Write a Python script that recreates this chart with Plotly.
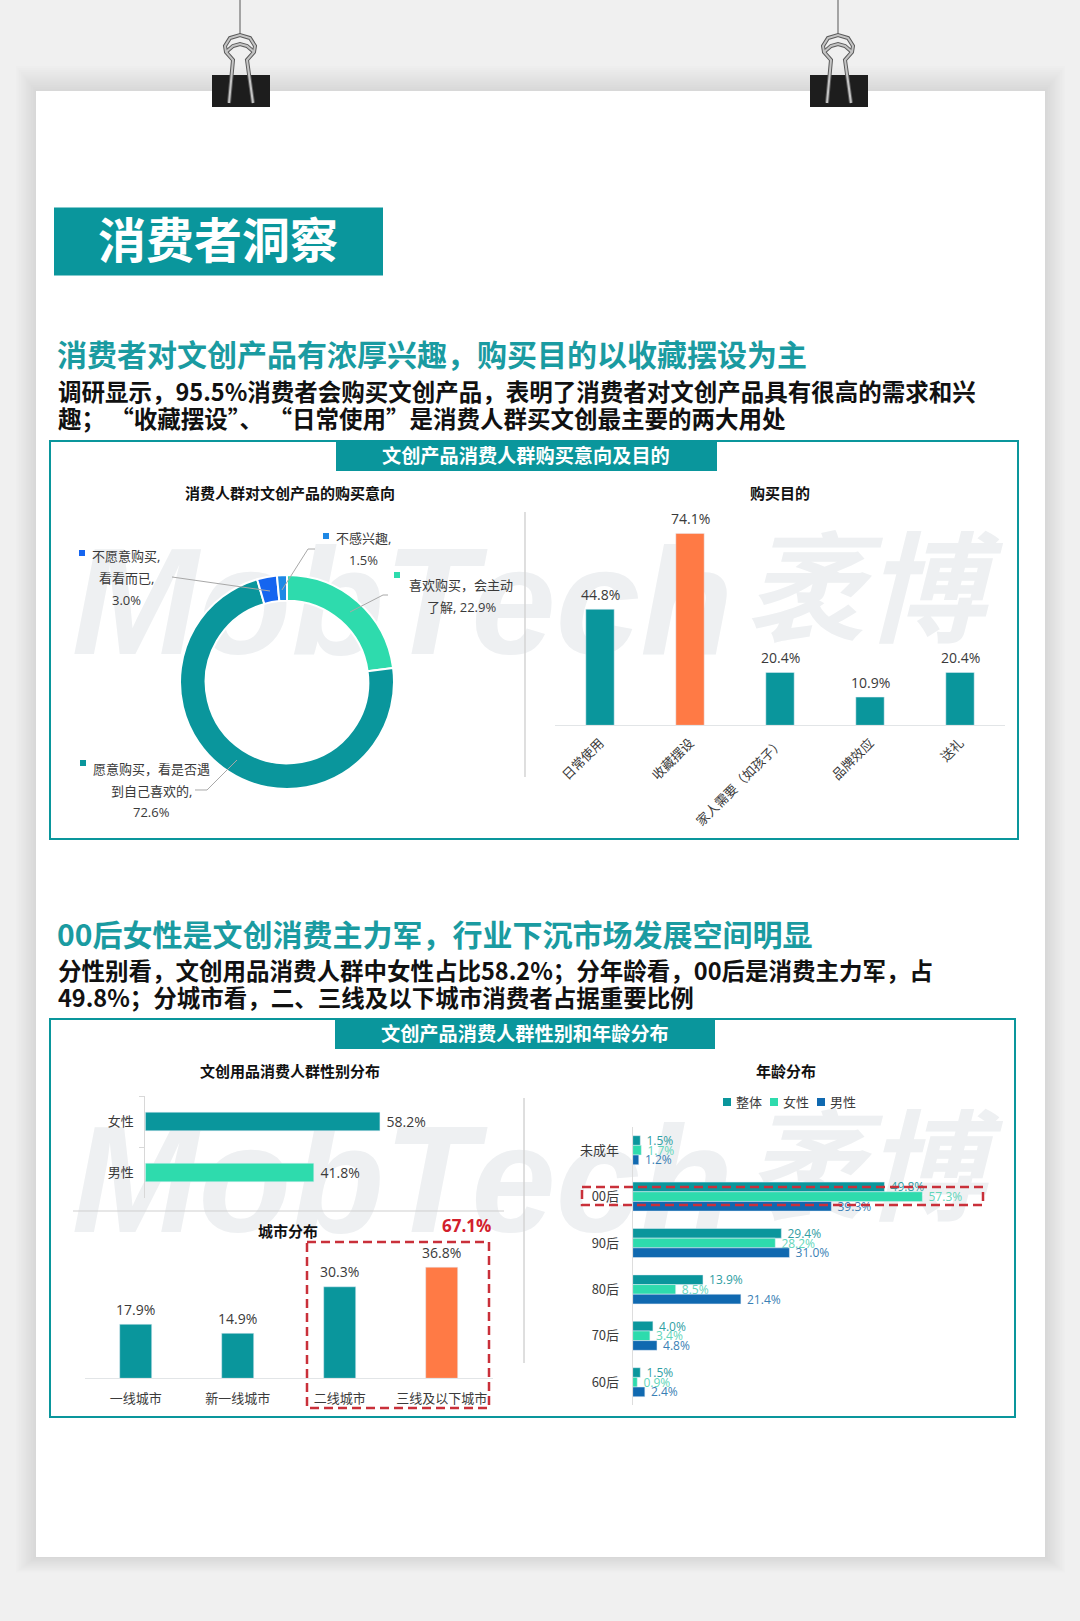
import plotly.graph_objects as go

W, H = 1080, 1621

# donut
intent_lines = [["喜欢购买，会主动", "了解, {}"], ["愿意购买，看是否遇", "到自己喜欢的,", "{}"],
                ["不愿意购买,", "看看而已,", "{}"], ["不感兴趣,", "{}"]]
intent_names = ["喜欢购买，会主动了解", "愿意购买，看是否遇到自己喜欢的", "不愿意购买，看看而已", "不感兴趣"]
intent_vals = [22.9, 72.6, 3.0, 1.5]

# purchase purpose
purpose_cats = ["日常使用", "收藏摆设", "家人需要（如孩子）", "品牌效应", "送礼"]
purpose_vals = [44.8, 74.1, 20.4, 10.9, 20.4]

# gender
gender_cats = ["女性", "男性"]
gender_vals = [58.2, 41.8]

# city tier
city_cats = ["一线城市", "新一线城市", "二线城市", "三线及以下城市"]
city_vals = [17.9, 14.9, 30.3, 36.8]

# age
age_cats = ["未成年", "00后", "90后", "80后", "70后", "60后"]
age_all = [1.5, 49.8, 29.4, 13.9, 4.0, 1.5]
age_female = [1.7, 57.3, 28.2, 8.5, 3.4, 0.9]
age_male = [1.2, 39.3, 31.0, 21.4, 4.8, 2.4]

TEAL = "#0a969c"
GREEN = "#2edbad"
ORANGE = "#ff7a45"
BLUE1 = "#1565f0"
BLUE2 = "#1e88e5"
NAVY = "#1069b0"
RED = "#c9303a"
GREY = "#3a3a3a"
CJK = "Noto Sans CJK SC"
LABEL_FONT = "Open Sans, Noto Sans CJK SC"


def px(x):
    return x / W


def py(y):
    return 1 - y / H


def dom_x(a, b):
    return [px(a), px(b)]


def dom_y(top, bottom):
    return [py(bottom), py(top)]


fig = go.Figure()

fig.add_trace(go.Pie(values=intent_vals, labels=intent_names, sort=False, direction="clockwise",
                     rotation=0, hole=0.76, textinfo="none", showlegend=False,
                     marker=dict(colors=[GREEN, TEAL, BLUE1, BLUE2], line=dict(color="white", width=2)),
                     domain=dict(x=dom_x(180, 394), y=dom_y(575, 789))))

fig.add_trace(go.Bar(x=purpose_cats, y=purpose_vals, width=0.315, xaxis="x", yaxis="y",
                     marker_color=[TEAL, ORANGE, TEAL, TEAL, TEAL], showlegend=False))

# leading nbsp gives the horizontal labels the same gap from the bar end as the original
fig.add_trace(go.Bar(y=gender_cats, x=gender_vals, width=0.365, orientation="h", xaxis="x2", yaxis="y2",
                     marker_color=[TEAL, GREEN],
                     text=[f"\u00a0{v:.1f}%" for v in gender_vals], textposition="outside",
                     textfont=dict(size=14, color=GREY, family=LABEL_FONT),
                     cliponaxis=False, showlegend=False))

fig.add_trace(go.Bar(x=city_cats, y=city_vals, width=0.314, xaxis="x3", yaxis="y3",
                     marker_color=[TEAL, TEAL, TEAL, ORANGE], showlegend=False))

for name, vals, col, txt_col in [("整体", age_all, TEAL, "#2f9ea3"),
                                 ("女性", age_female, GREEN, "#62d6ba"),
                                 ("男性", age_male, NAVY, "#3a7fb5")]:
    fig.add_trace(go.Bar(y=age_cats, x=vals, name=name, orientation="h", xaxis="x4", yaxis="y4",
                         marker_color=col,
                         text=[f"\u00a0{v:.1f}%" for v in vals], textposition="outside",
                         textfont=dict(size=12, color=txt_col, family=LABEL_FONT),
                         cliponaxis=False, showlegend=False))

shapes = []


def rect(x0, y0, x1, y1, fill=None, line=None, lw=0, dash=None, layer="below", label=None):
    s = dict(type="rect", xref="paper", yref="paper", x0=px(x0), x1=px(x1), y0=py(y0), y1=py(y1),
             layer=layer, fillcolor=fill or "rgba(0,0,0,0)",
             line=dict(color=line or "rgba(0,0,0,0)", width=lw, dash=dash or "solid"))
    if label:
        s["label"] = label
    shapes.append(s)


def pline(points, color="#a8a8a8", lw=1, layer="above"):
    path = "M" + " L".join(f"{px(a):.5f},{py(b):.5f}" for a, b in points)
    shapes.append(dict(type="path", xref="paper", yref="paper", path=path, layer=layer,
                       line=dict(color=color, width=lw)))


# paper with soft shadow
for i in range(12, 0, -1):
    rect(36 - 1.7 * i, 91 - 2.1 * i, 1045 + 1.7 * i, 1557 + 1.3 * i, fill="rgba(0,0,0,0.006)")
rect(36, 91, 1045, 1557, fill="white")

# watermark, twice
for cy in [587, 1165]:
    rect(45, cy - 90, 760, cy + 90, label=dict(text="<b><i>MobTech</i></b>", textposition="middle center",
         font=dict(family="Liberation Sans", size=152, color="#eef0f2")))
    rect(735, cy - 77, 995, cy + 103, label=dict(text="<b><i>袤博</i></b>", textposition="middle center",
         font=dict(family=CJK, size=120, color="#eef0f2")))

# panels
rect(54, 207.5, 383, 275.5, fill=TEAL)
rect(50, 441, 1018, 839, line=TEAL, lw=2)
rect(336, 441, 717, 471, fill=TEAL)
rect(50, 1019, 1015, 1417, line=TEAL, lw=2)
rect(335, 1019, 715, 1049, fill=TEAL)

# dividers
pline([(525, 512), (525, 777)], color="#d4d4d4", lw=1.5, layer="below")
pline([(524, 1098), (524, 1363)], color="#d4d4d4", lw=1.5, layer="below")
pline([(73, 1211), (504, 1211)], color="#cfcfcf", lw=1, layer="below")

# binder clips
for dx in [0, 598]:
    pline([(240 + dx, 0), (240 + dx, 35)], color="#8a8a8a", lw=1.5)
    rect(212 + dx, 75, 270 + dx, 107, fill="#1d1d1d", layer="above")
    for col, lw in [("#5a5a5a", 4), ("#c4c4c4", 2)]:
        pline([(229 + dx, 103), (233 + dx, 60), (226 + dx, 52), (225 + dx, 46), (230 + dx, 38), (240 + dx, 35),
               (250 + dx, 38), (255 + dx, 46), (254 + dx, 52), (247 + dx, 60), (253 + dx, 103)], color=col, lw=lw)
        pline([(226 + dx, 52), (233 + dx, 46), (240 + dx, 44), (247 + dx, 46), (254 + dx, 52)], color=col, lw=lw)

# donut leader lines
pline([(282, 590), (308, 549), (315, 549)])
pline([(172, 577), (270, 591)])
pline([(350, 612), (383, 595), (388, 595)])
pline([(237, 760), (207, 790), (195, 790)])

# donut label swatches
for (sx, sy), col in zip([(397, 575), (83, 763), (82, 553), (326, 536)], [GREEN, TEAL, BLUE1, BLUE2]):
    rect(sx - 3, sy - 3, sx + 3, sy + 3, fill=col, layer="above")

# dashed highlights
rect(307, 1242, 489, 1408, line=RED, lw=2.5, dash="9px,5px", layer="above")
rect(582, 1187, 983, 1205, line=RED, lw=2.5, dash="9px,5px", layer="above")

# age legend swatches
for sx, col in zip([727, 774, 821], [TEAL, GREEN, NAVY]):
    rect(sx - 4, 1098, sx + 4, 1106, fill=col, layer="above")

ann = []


def text(x, y, s, size=14, color=GREY, bold=False, anchor="center", family=CJK):
    ann.append(dict(x=px(x), y=py(y), xref="paper", yref="paper", text=f"<b>{s}</b>" if bold else s,
                    showarrow=False, xanchor=anchor, yanchor="middle",
                    font=dict(size=size, color=color, family=family)))


text(218, 237, "消费者洞察", size=48, color="white", bold=True)
text(55, 353, "消费者对文创产品有浓厚兴趣，购买目的以收藏摆设为主", size=30, color="#1a9ba1", bold=True, anchor="left")
text(56, 391, "调研显示，95.5%消费者会购买文创产品，表明了消费者对文创产品具有很高的需求和兴", size=23.5,
     color="#111111", bold=True, anchor="left")
text(56, 418, "趣； “收藏摆设”、 “日常使用”是消费人群买文创最主要的两大用处", size=23.5, color="#111111",
     bold=True, anchor="left")
text(55, 933, "00后女性是文创消费主力军，行业下沉市场发展空间明显", size=30, color="#1a9ba1", bold=True, anchor="left")
text(56, 970, "分性别看，文创用品消费人群中女性占比58.2%；分年龄看，00后是消费主力军，占", size=23.5,
     color="#111111", bold=True, anchor="left")
text(56, 997, "49.8%；分城市看，二、三线及以下城市消费者占据重要比例", size=23.5, color="#111111",
     bold=True, anchor="left")

text(526, 455, "文创产品消费人群购买意向及目的", size=19.2, color="white", bold=True)
text(525, 1033, "文创产品消费人群性别和年龄分布", size=19.2, color="white", bold=True)
text(290, 492, "消费人群对文创产品的购买意向", size=15, color="#111111", bold=True)
text(780, 492, "购买目的", size=15, color="#111111", bold=True)
text(290, 1070, "文创用品消费人群性别分布", size=15, color="#111111", bold=True)
text(786, 1070, "年龄分布", size=15, color="#111111", bold=True)
text(288, 1230, "城市分布", size=15, color="#111111", bold=True)
text(466, 1225, "67.1%", size=17, color="#d2202c", bold=True, family=LABEL_FONT)

# donut labels, line by line
label_pos = [(461, [585, 607]), (151, [769, 791, 812]), (126, [556, 578, 600]), (363, [538, 560])]
for (cx, ys), lines, v in zip(label_pos, intent_lines, intent_vals):
    for y, ln in zip(ys, lines):
        text(cx, y, ln.format(f"{v:.1f}%"), size=13, family=LABEL_FONT)

for sx, name in zip([734, 781, 828], ["整体", "女性", "男性"]):
    text(sx, 1101, name, size=13, anchor="left")

# column labels sit on the data, a bit above each bar
for xa, ya, cats, vals in [("x", "y", purpose_cats, purpose_vals), ("x3", "y3", city_cats, city_vals)]:
    for c, v in zip(cats, vals):
        ann.append(dict(x=c, y=v, xref=xa, yref=ya, text=f"{v:.1f}%", showarrow=False, yanchor="middle",
                        yshift=15, font=dict(size=14, color=GREY, family=LABEL_FONT)))

tick = dict(size=13, color=GREY, family=CJK)
AX = "#e2e5e7"

fig.update_layout(
    width=W, height=H, margin=dict(l=0, r=0, t=0, b=0),
    paper_bgcolor="#f0f0f0", plot_bgcolor="rgba(0,0,0,0)",
    barmode="group", bargap=0.375, bargroupgap=0, uniformtext=dict(mode=False),
    shapes=shapes, annotations=ann,
    xaxis=dict(domain=dom_x(555, 1005), anchor="y", range=[-0.5, 4.5], tickangle=-45, tickfont=tick,
               showline=True, linecolor=AX, ticks="", ticklabelstandoff=4, showgrid=False, zeroline=False),
    yaxis=dict(domain=dom_y(518.1, 725.3), anchor="x", range=[0, 80], visible=False),
    xaxis2=dict(domain=dom_x(145.3, 427.5), anchor="y2", range=[0, 70], visible=False),
    yaxis2=dict(domain=dom_y(1096, 1198), anchor="x2", range=[1.5, -0.5], tickfont=tick, tickson="boundaries",
                ticks="outside", ticklen=5, tickcolor="#d8d8d8", showline=True, linecolor="#d8d8d8",
                ticklabelstandoff=8, showgrid=False, zeroline=False),
    xaxis3=dict(domain=dom_x(84.7, 492.7), anchor="y3", range=[-0.5, 3.5], tickfont=tick, ticks="",
                showline=True, linecolor=AX, ticklabelstandoff=8, showgrid=False, zeroline=False),
    yaxis3=dict(domain=dom_y(1257.5, 1378.3), anchor="x3", range=[0, 40], visible=False),
    xaxis4=dict(domain=dom_x(632.7, 986.6), anchor="y4", range=[0, 70], visible=False),
    yaxis4=dict(domain=dom_y(1127, 1405.4), anchor="x4", range=[5.5, -0.5], tickfont=tick, ticks="",
                showline=True, linecolor="#dddddd", ticklabelstandoff=10, showgrid=False, zeroline=False),
)
fig.update_traces(constraintext="none", selector=dict(type="bar"))

fig.write_html("out.html", config=dict(displayModeBar=False),
               post_script="document.body.style.margin='0';document.body.style.overflow='hidden';")
